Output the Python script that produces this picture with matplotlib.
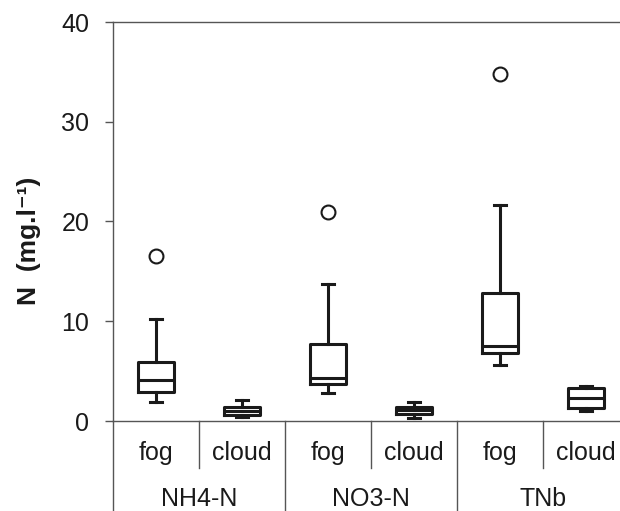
import matplotlib
matplotlib.use("Agg")
import matplotlib.pyplot as plt
import matplotlib.transforms as mtransforms

plt.rcParams['font.family'] = ['Liberation Sans', 'DejaVu Sans']

# box statistics (mg/l)
groups = ["NH4-N", "NO3-N", "TNb"]
types = ["fog", "cloud"]
whislo = [1.9, 0.43, 2.8, 0.27, 5.6, 1.0]
q1 = [2.9, 0.65, 3.7, 0.7, 6.8, 1.27]
med = [4.1, 1.0, 4.3, 1.07, 7.5, 2.3]
q3 = [5.9, 1.4, 7.7, 1.4, 12.8, 3.35]
whishi = [10.2, 2.1, 13.7, 1.9, 21.7, 3.5]
fliers = [[16.5], [], [21.0], [], [34.8], []]

stats = []
for i in range(6):
    stats.append(dict(whislo=whislo[i], q1=q1[i], med=med[i], q3=q3[i],
                      whishi=whishi[i], fliers=fliers[i]))

fig = plt.figure(figsize=(6.2, 5.11), dpi=100)
ax = fig.add_axes([113 / 620, 1 - 421 / 511, 1 - 113 / 620, (421 - 22) / 511])

ink = '#1a1a1a'
grey = '#555555'
lw = 2.2
ax.bxp(stats, positions=range(6), widths=0.42, capwidths=0.14,
       boxprops=dict(color=ink, linewidth=lw),
       medianprops=dict(color=ink, linewidth=lw),
       whiskerprops=dict(color=ink, linewidth=lw),
       capprops=dict(color=ink, linewidth=lw),
       flierprops=dict(marker='o', markersize=10, markerfacecolor='none',
                       markeredgecolor=ink, markeredgewidth=1.5))

ax.set_xlim(-0.5, -0.5 + 507 / 86)
ax.set_ylim(0, 40)
ax.set_yticks([0, 10, 20, 30, 40])
ax.tick_params(axis='y', direction='out', length=6, width=1, color=grey,
               labelsize=18, pad=11, labelcolor=ink)
ax.set_xticks([])
ax.spines['right'].set_visible(False)
for s in ['left', 'top', 'bottom']:
    ax.spines[s].set_color(grey)
    ax.spines[s].set_linewidth(1)

ax.set_ylabel("N  (mg.l\u207b\u00b9)", fontsize=19, fontweight='bold', color=ink)
ax.yaxis.set_label_coords(-(113 - 41) / 507, (421 - 241) / 399)

# category table below the axis
trans = mtransforms.blended_transform_factory(ax.transData, ax.transAxes)
h = ax.bbox.height
short_end = -(468 - 421) / h
long_end = -(511 - 421) / h - 0.05
ax.plot([-0.5, -0.5], [0, long_end], transform=trans, color=grey,
        lw=1, clip_on=False)
for k in range(1, 6):
    end = long_end if k % 2 == 0 else short_end
    ax.plot([k - 0.5, k - 0.5], [0, end], transform=trans, color=grey,
            lw=1, clip_on=False)
for i in range(6):
    ax.text(i, -(453 - 421) / h, types[i % 2], transform=trans, ha='center',
            va='center', fontsize=18, color=ink)
for g, name in enumerate(groups):
    ax.text(2 * g + 0.5, -(499 - 421) / h, name, transform=trans, ha='center',
            va='center', fontsize=18, color=ink)

fig.savefig("out.png", dpi=100)
